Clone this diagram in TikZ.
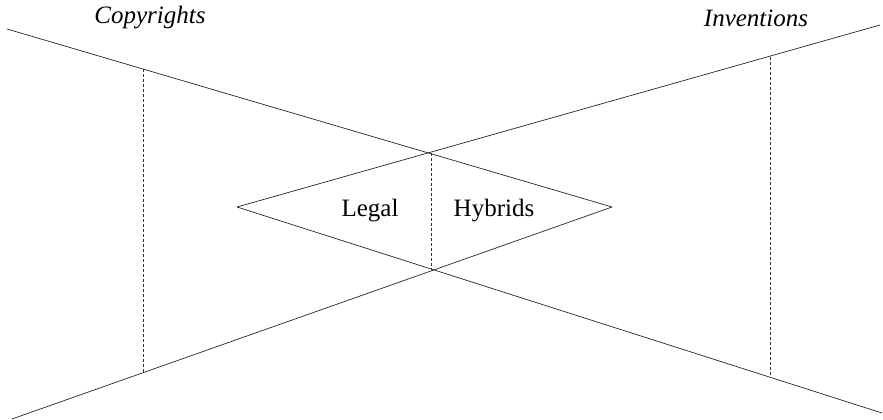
\documentclass[tikz,border=0pt]{standalone}
\usepackage{fontspec}
\setmainfont{Liberation Serif}
\begin{document}
\begin{tikzpicture}[x=1pt,y=-1pt,
  solidline/.style={line width=0.7pt,black!85},
  guide/.style={line width=0.6pt,black!80,dash pattern=on 3pt off 2pt},
  lbl/.style={font=\fontsize{25}{28}\selectfont,inner sep=0pt}]
\useasboundingbox (0,0) rectangle (883,420);
% end points and vertices
\coordinate (tl) at (7,29);
\coordinate (br) at (882,413);
\coordinate (bl) at (12,419);
\coordinate (tr) at (880,25);
\coordinate (dl) at (237,207);
\coordinate (dr) at (612,207);
\coordinate (dt) at (431,153);
\coordinate (db) at (431,270);
\coordinate (g1a) at (143,69);
\coordinate (g1b) at (143,372);
\coordinate (g3a) at (770,57);
\coordinate (g3b) at (770,376);
% main lines
\draw[solidline] (tl) -- (dr);
\draw[solidline] (dl) -- (br);
\draw[solidline] (bl) -- (dr);
\draw[solidline] (dl) -- (tr);
% dashed guides
\draw[guide] (g1a) -- (g1b);
\draw[guide] (dt) -- (db);
\draw[guide] (g3a) -- (g3b);
% labels
\node[lbl,font=\fontsize{25}{28}\selectfont\itshape] (copy) at (150,18) {Copyrights};
\node[lbl,font=\fontsize{25}{28}\selectfont\itshape] (inv) at (756,18) {Inventions};
\node[lbl] (legal) at (370,211) {Legal};
\node[lbl] (hyb) at (494,211) {Hybrids};
\end{tikzpicture}
\end{document}
